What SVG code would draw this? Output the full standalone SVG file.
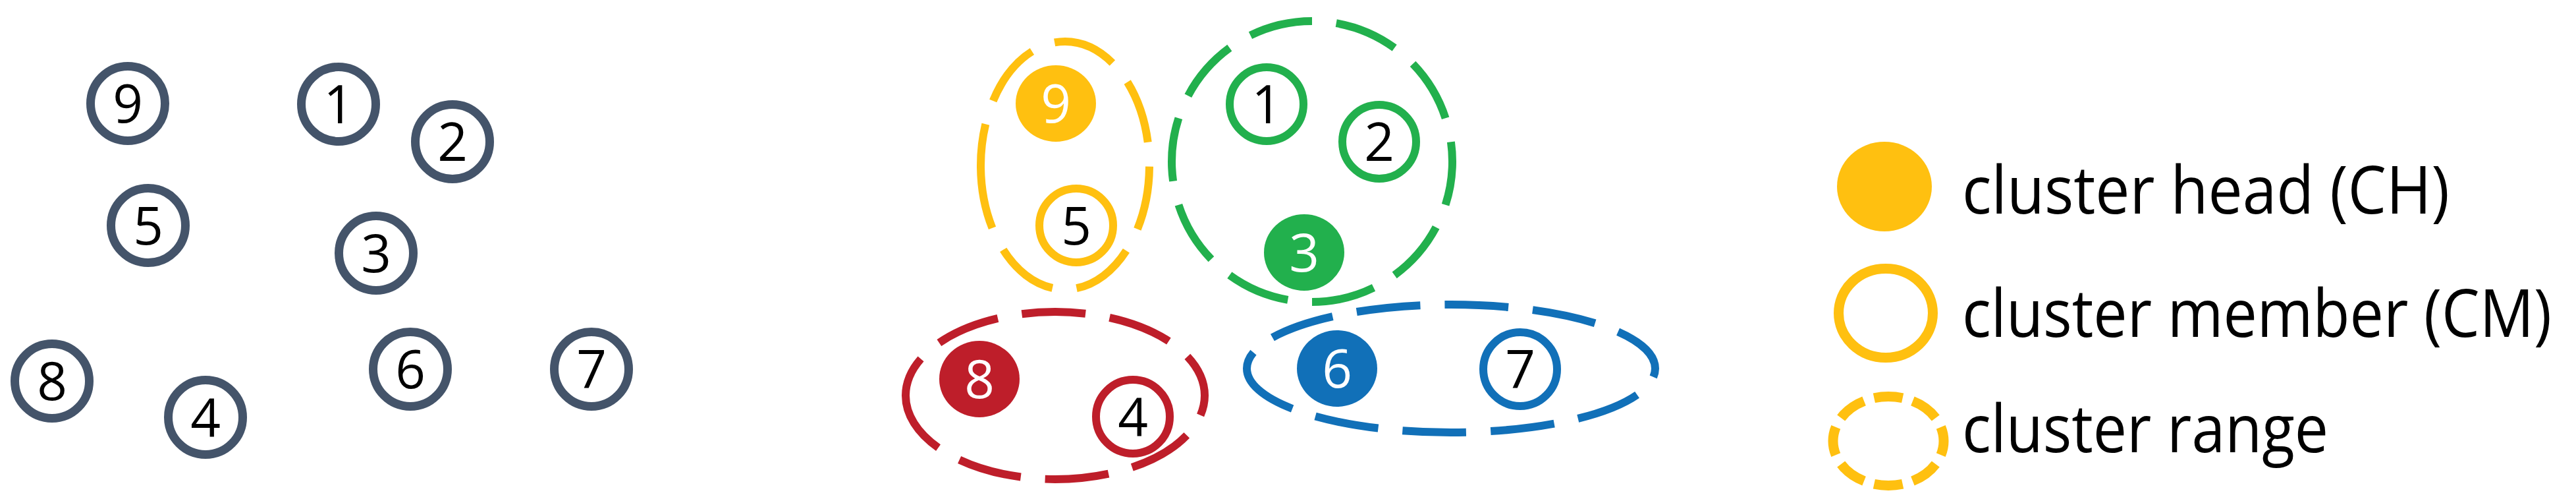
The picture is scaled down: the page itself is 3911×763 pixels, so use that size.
<svg xmlns="http://www.w3.org/2000/svg" width="3911" height="763" viewBox="0 0 3911 763">
<style>
  .num { font-family: "Open Sans", "Noto Sans", "Liberation Sans", sans-serif; font-size: 80px; text-anchor: middle; }
  .dk { fill: #000000; }
  .wt { fill: #FFFFFF; }
  .plain { fill: #FFFFFF; stroke: #44546A; stroke-width: 13; }
  .range { fill: none; stroke-width: 12; stroke-dasharray: 97 37; stroke-linecap: butt; }
  .lg { font-family: "Open Sans", "Noto Sans", "Liberation Sans", sans-serif; font-size: 101px; fill: #000000; }
  .y { stroke: #FFC010; } .yf { fill: #FFC010; }
  .g { stroke: #22B04D; } .gf { fill: #22B04D; }
  .r { stroke: #BE1E2A; } .rf { fill: #BE1E2A; }
  .b { stroke: #1170B8; } .bf { fill: #1170B8; }
  .mem { fill: #FFFFFF; stroke-width: 12; }
</style>
<rect width="3911" height="763" fill="#FFFFFF"/>

<!-- Left: unclustered nodes -->
<g id="left-nodes">
  <g id="L9"><circle class="plain" cx="194" cy="157" r="56.5"/><text class="num dk" x="194" y="185.5">9</text></g>
  <g id="L1"><circle class="plain" cx="514" cy="158" r="56.5"/><text class="num dk" x="514" y="186.5">1</text></g>
  <g id="L2"><circle class="plain" cx="687" cy="215" r="56.5"/><text class="num dk" x="687" y="243.5">2</text></g>
  <g id="L5"><circle class="plain" cx="225" cy="342" r="56.5"/><text class="num dk" x="225" y="370.5">5</text></g>
  <g id="L3"><circle class="plain" cx="571" cy="384" r="56.5"/><text class="num dk" x="571" y="412.5">3</text></g>
  <g id="L8"><circle class="plain" cx="79" cy="578" r="56.5"/><text class="num dk" x="79" y="606.5">8</text></g>
  <g id="L4"><circle class="plain" cx="312" cy="633" r="56.5"/><text class="num dk" x="312" y="661.5">4</text></g>
  <g id="L6"><circle class="plain" cx="623" cy="560" r="56.5"/><text class="num dk" x="623" y="588.5">6</text></g>
  <g id="L7"><circle class="plain" cx="898" cy="560" r="56.5"/><text class="num dk" x="898" y="588.5">7</text></g>
</g>

<!-- Cluster ranges -->
<g id="cluster-ranges">
  <path id="range-yellow" class="range y" d="M1489,251 A128,188 0 0 0 1745,251 A128,188 0 0 0 1489,251"/>
  <circle id="range-green" class="range g" cx="1992" cy="245" r="213" pathLength="1340" stroke-dashoffset="30"/>
  <path id="range-red" class="range r" d="M1375,600 A227,127 0 0 0 1829,600 A227,127 0 0 0 1375,600"/>
  <path id="range-blue" class="range b" d="M1893,559 A310,97 0 0 0 2513,559 A310,97 0 0 0 1893,559"/>
</g>

<!-- Right: clustered nodes -->
<g id="right-nodes">
  <g id="R9"><ellipse class="yf" cx="1603" cy="157" rx="61" ry="58"/><text class="num wt" x="1603" y="185.5">9</text></g>
  <g id="R5"><circle class="mem y" cx="1634" cy="342" r="56"/><text class="num dk" x="1634" y="370.5">5</text></g>
  <g id="R1"><circle class="mem g" cx="1923" cy="158" r="56"/><text class="num dk" x="1923" y="186.5">1</text></g>
  <g id="R2"><circle class="mem g" cx="2094" cy="215" r="56"/><text class="num dk" x="2094" y="243.5">2</text></g>
  <g id="R3"><ellipse class="gf" cx="1980" cy="383" rx="61" ry="58"/><text class="num wt" x="1980" y="411.5">3</text></g>
  <g id="R8"><ellipse class="rf" cx="1487" cy="575" rx="61" ry="58"/><text class="num wt" x="1487" y="603.5">8</text></g>
  <g id="R4"><circle class="mem r" cx="1720" cy="632" r="56"/><text class="num dk" x="1720" y="660.5">4</text></g>
  <g id="R6"><ellipse class="bf" cx="2030" cy="559" rx="61" ry="58"/><text class="num wt" x="2030" y="587.5">6</text></g>
  <g id="R7"><circle class="mem b" cx="2308" cy="560" r="56"/><text class="num dk" x="2308" y="588.5">7</text></g>
</g>

<g id="connectors"></g>

<!-- Legend -->
<g id="legend">
  <g id="legend-ch">
    <ellipse class="yf" cx="2861" cy="283" rx="72" ry="68"/>
    <text class="lg" x="2979" y="324" textLength="740" lengthAdjust="spacingAndGlyphs">cluster head (CH)</text>
  </g>
  <g id="legend-cm">
    <ellipse fill="none" stroke="#FFC010" stroke-width="15" cx="2863" cy="475" rx="71.5" ry="67.5"/>
    <text class="lg" x="2979" y="511" textLength="895" lengthAdjust="spacingAndGlyphs">cluster member (CM)</text>
  </g>
  <g id="legend-range">
    <ellipse fill="none" stroke="#FFC010" stroke-width="15" stroke-dasharray="44 16" stroke-dashoffset="22" pathLength="480" cx="2867" cy="669" rx="84" ry="67.5"/>
    <text class="lg" x="2979" y="686" textLength="556" lengthAdjust="spacingAndGlyphs">cluster range</text>
  </g>
</g>
</svg>
